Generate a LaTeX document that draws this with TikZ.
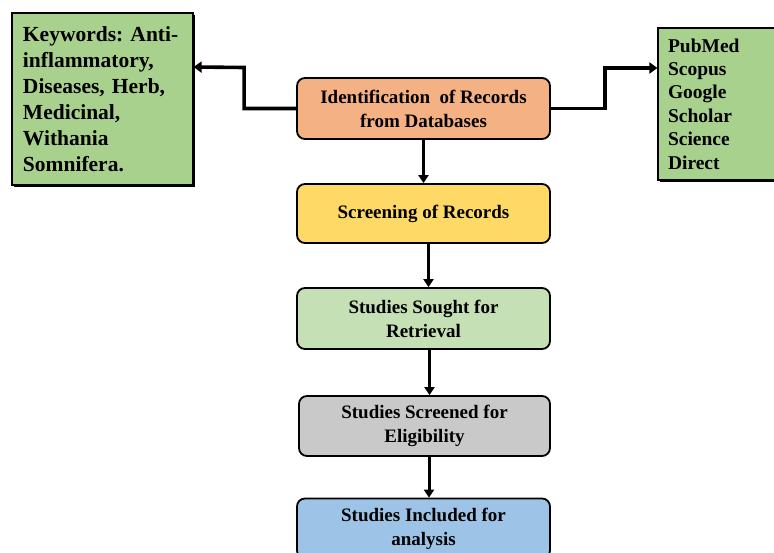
\documentclass[tikz,border=0pt]{standalone}
\usepackage{fontspec}
\setmainfont{Liberation Serif}
\frenchspacing
\usetikzlibrary{arrows.meta,calc,shadows}
\definecolor{cOrange}{HTML}{F4B183}
\definecolor{cYellow}{HTML}{FFD966}
\definecolor{cLgreen}{HTML}{C5E0B4}
\definecolor{cGray}{HTML}{C9C9C9}
\definecolor{cBlue}{HTML}{9DC3E6}
\definecolor{cGreen}{HTML}{A9D18E}
\tikzset{
  flowbox/.style={draw=black, line width=1.8pt, rounded corners=8pt,
    minimum width=253pt, minimum height=60pt, inner sep=0pt,
    align=center, font=\fontsize{19}{24}\selectfont\bfseries},
  listbox/.style={draw=black, fill=cGreen, line width=1.2pt, inner xsep=10pt,
    inner ysep=0pt, align=left,
    drop shadow={opacity=1, fill=black, shadow xshift=2pt, shadow yshift=-2pt}},
  arr/.style={line width=3pt, -{Triangle[length=8pt,width=10pt]}},
  sidearr/.style={line width=3.6pt, -{Triangle[length=8pt,width=11pt]}}
}
\begin{document}
\begin{tikzpicture}[x=1pt,y=-1pt]
\clip (0,0) rectangle (774,552);
\fill[white] (0,0) rectangle (774,552);

% main flow
\node[flowbox, fill=cOrange, minimum height=61pt] (id) at (423.5,108.5)
  {Identification\ \ of Records\\from Databases};
\node[flowbox, fill=cYellow, minimum height=59pt] (scr) at (423.5,213.5)
  {Screening of Records};
\node[flowbox, fill=cLgreen, minimum height=61pt] (ret) at (423.5,318.5)
  {Studies Sought for\\Retrieval};
\node[flowbox, fill=cGray, minimum width=251pt] (eli) at (424.5,426)
  {Studies Screened for\\Eligibility};
\node[flowbox, fill=cBlue] (inc) at (423.5,528.5)
  {Studies Included for\\analysis};

% side boxes
\node[listbox, minimum width=181pt, minimum height=172pt, inner xsep=11pt,
  text width=159pt, font=\fontsize{21.5}{26}\selectfont\bfseries] (kw) at (102.5,99)
  {Keywords: Anti-\\inflammatory,\\Diseases, Herb,\\Medicinal,\\Withania\\Somnifera.};
\node[listbox, minimum width=124pt, minimum height=152pt, text width=104pt,
  font=\fontsize{19.5}{23.4}\selectfont\bfseries] (db) at (720,104)
  {PubMed\\Scopus\\Google\\Scholar\\Science\\Direct};

% connectors
\draw[arr] (id.south) -- (scr.north);
\draw[arr] ($(scr.south)+(5,0)$) -- ($(ret.north)+(5,0)$);
\draw[arr] ($(ret.south)+(6,0)$) -- ($(eli.north)+(5,0)$);
\draw[arr] ($(eli.south)+(4.5,0)$) -- ($(inc.north)+(5.5,0)$);
\draw[sidearr] (id.west) -| ($(id.west)+(-52,-41)$) -- ([yshift=32pt]kw.east);
\draw[sidearr] (id.east) -| ($(id.east)+(54,-40.5)$) -- ([yshift=36pt]db.west);
\end{tikzpicture}
\end{document}
